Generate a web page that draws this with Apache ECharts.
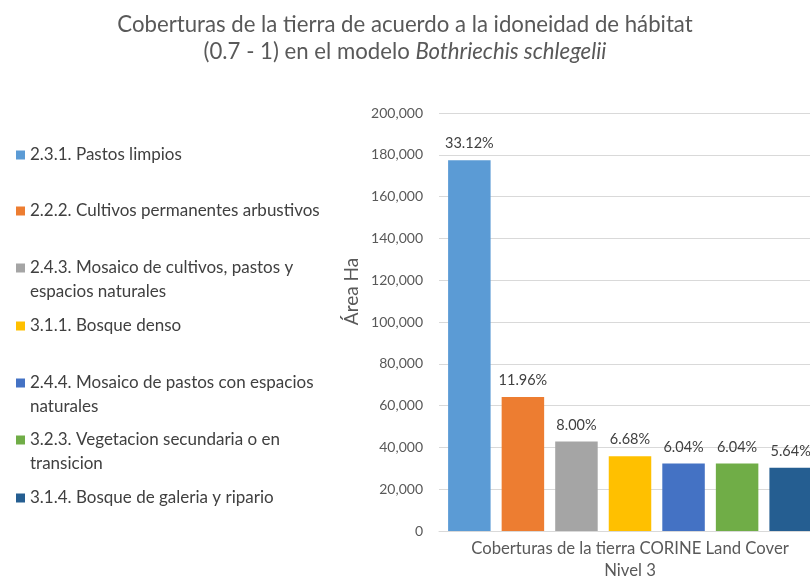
<!DOCTYPE html>
<html>
<head>
<meta charset="utf-8">
<script src="https://cdn.jsdelivr.net/npm/echarts@6/dist/echarts.min.js"></script>
<style>
  html, body { margin: 0; padding: 0; background: #ffffff; }
  #chart { width: 810px; height: 578px; }
</style>
</head>
<body>
<div id="chart"></div>
<script>
// Land-cover classes (CORINE Land Cover, level 3)
var coverNames = [
  '2.3.1. Pastos limpios',
  '2.2.2. Cultivos permanentes arbustivos',
  '2.4.3. Mosaico de cultivos, pastos y espacios naturales',
  '3.1.1. Bosque denso',
  '2.4.4. Mosaico de pastos con espacios naturales',
  '3.2.3. Vegetacion secundaria o en transicion',
  '3.1.4. Bosque de galeria y ripario'
];
// Wrapped legend text for each class
var legendLines = [
  ['2.3.1. Pastos limpios'],
  ['2.2.2. Cultivos permanentes arbustivos'],
  ['2.4.3. Mosaico de cultivos, pastos y', 'espacios naturales'],
  ['3.1.1. Bosque denso'],
  ['2.4.4. Mosaico de pastos con espacios', 'naturales'],
  ['3.2.3. Vegetacion secundaria o en', 'transicion'],
  ['3.1.4. Bosque de galeria y ripario']
];
// Area (ha) per class
var areaHa = [177400, 64060, 42850, 35780, 32350, 32350, 30210];
// Share of total area (%)
var sharePct = ['33.12%', '11.96%', '8.00%', '6.68%', '6.04%', '6.04%', '5.64%'];
var categoryLabel = ['Coberturas de la tierra CORINE Land Cover\nNivel 3'];

var colors = ['#5B9BD5', '#ED7D31', '#A5A5A5', '#FFC000', '#4472C4', '#70AD47', '#255E91'];
// vertical centre of each legend marker
var legendY = [155, 211, 268, 326, 383, 440, 498];

var FONT = 'Lato';
var TXT = '#595959';
var DARK = '#404040';
var LH = 23.4;

var series = coverNames.map(function (name, i) {
  return {
    name: name,
    type: 'bar',
    data: [areaHa[i]],
    barWidth: 42.5,
    barGap: '26%',
    itemStyle: { color: colors[i] },
    label: {
      show: true,
      position: 'top',
      distance: 9,
      formatter: sharePct[i],
      fontFamily: FONT,
      fontSize: 14.5,
      color: DARK
    }
  };
});

// One legend block per class; wrapped entries get a blank leading line so
// the marker sits beside the first line of text.
var legends = coverNames.map(function (name, i) {
  var lines = legendLines[i];
  var two = lines.length > 1;
  var text = two ? ' \n' + lines.join('\n') : lines[0];
  return {
    data: [name],
    left: 16,
    top: legendY[i] - (two ? LH * 1.5 : LH / 2),
    padding: 0,
    icon: 'rect',
    itemWidth: 9,
    itemHeight: 9,
    selectedMode: false,
    formatter: function () { return text; },
    textStyle: {
      fontFamily: FONT,
      fontSize: 17,
      color: DARK,
      lineHeight: LH
    }
  };
});

var chart = echarts.init(document.getElementById('chart'), null, { renderer: 'canvas' });
chart.setOption({
  animation: false,
  backgroundColor: '#ffffff',
  title: {
    left: 'center',
    top: 6,
    text: '{a|Coberturas de la tierra de acuerdo a la idoneidad de hábitat}\n{a|(0.7 - 1) en el modelo }{i|Bothriechis schlegelii}',
    textStyle: {
      fontWeight: 'normal',
      rich: {
        a: { fontFamily: FONT, fontSize: 22.2, fontWeight: 'normal', color: TXT, lineHeight: 27 },
        i: { fontFamily: FONT, fontSize: 22.2, fontWeight: 'normal', color: TXT, lineHeight: 27, fontStyle: 'italic' }
      }
    }
  },
  legend: legends,
  // the plot area runs a little past the right edge of the canvas
  grid: { left: 439, width: 382, top: 113, bottom: 47, outerBoundsMode: 'none', containLabel: false },
  xAxis: {
    type: 'category',
    data: categoryLabel,
    axisLine: { show: true, lineStyle: { color: '#D9D9D9' } },
    axisTick: { show: false },
    axisLabel: {
      margin: 7,
      fontFamily: FONT,
      fontSize: 16.7,
      color: TXT,
      lineHeight: 22
    }
  },
  yAxis: {
    type: 'value',
    min: 0,
    max: 200000,
    interval: 20000,
    name: 'Área Ha',
    nameLocation: 'middle',
    nameRotate: 90,
    nameGap: 78,
    nameTextStyle: {
      fontFamily: FONT,
      fontSize: 19,
      color: TXT,
      padding: [0, 0, 0, 61]
    },
    axisLine: { show: false },
    axisTick: { show: false },
    splitLine: { lineStyle: { color: '#D9D9D9', width: 1 } },
    axisLabel: {
      margin: 16,
      fontFamily: FONT,
      fontSize: 14,
      color: TXT,
      formatter: function (v) { return v.toLocaleString('en-US'); }
    }
  },
  series: series
});
</script>
</body>
</html>
